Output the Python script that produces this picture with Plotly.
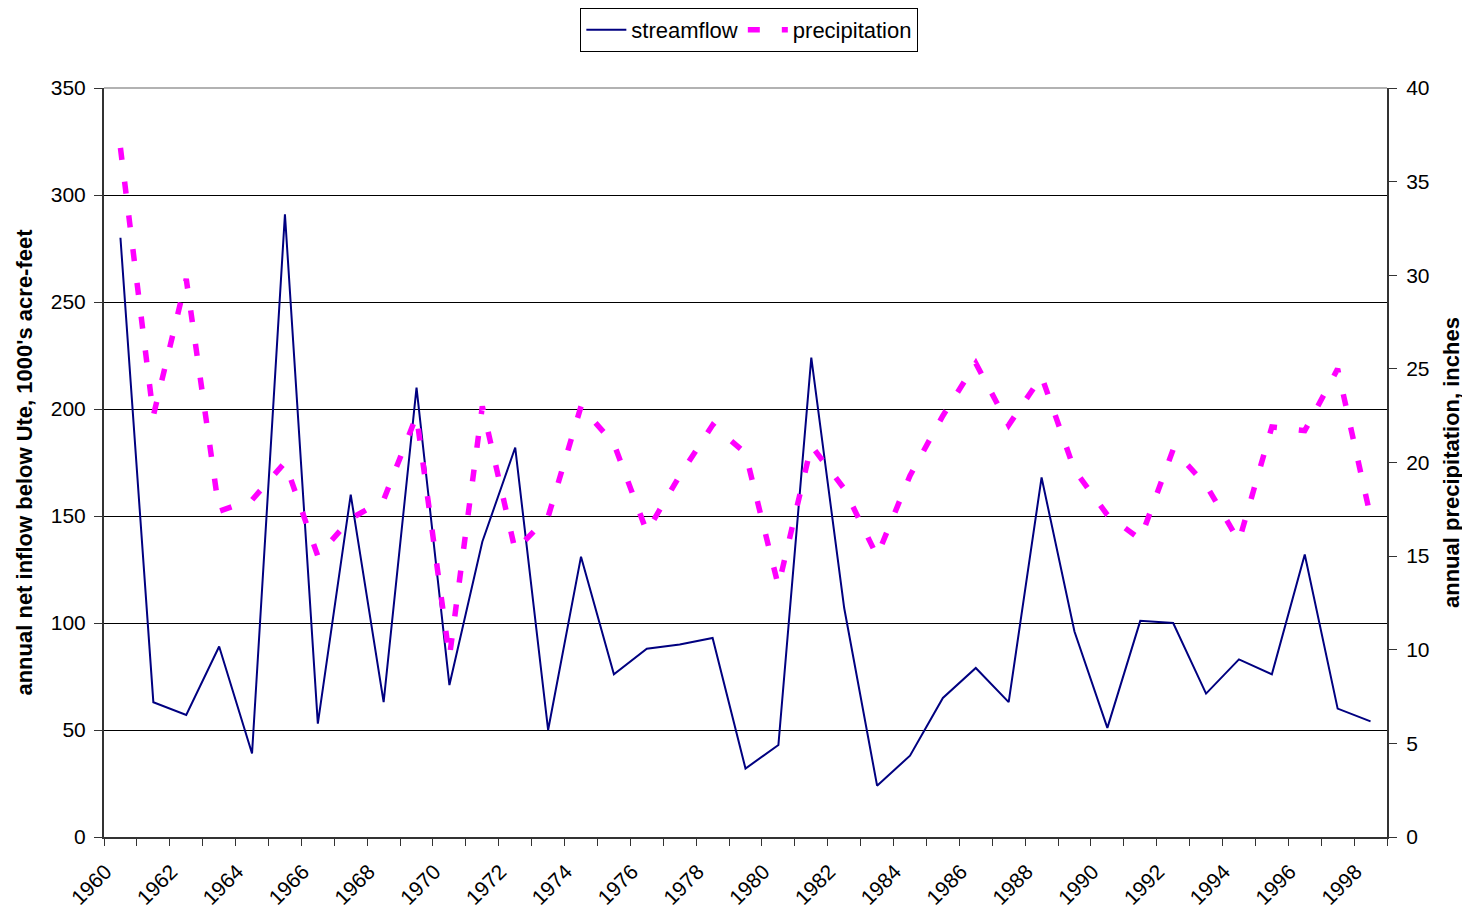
import plotly.graph_objects as go

# years on the category axis
lstYears = list(range(1960, 1999))

# annual net inflow below Ute, 1000's acre-feet
lstStreamflow = [280, 63, 57, 89, 39, 291, 53, 160, 63, 210,
                 71, 138, 182, 50, 131, 76, 88, 90, 93, 32,
                 43, 224, 107, 24, 38, 65, 79, 63, 168, 96,
                 51, 101, 100, 67, 83, 76, 132, 60, 54]

# annual precipitation, inches
lstPrecip = [36.8, 22.5, 29.8, 17.4, 18.0, 20.0, 15.0, 17.0, 18.0, 22.5,
             9.6, 23.0, 15.3, 17.1, 23.0, 21.0, 16.3, 19.3, 22.0, 20.5,
             13.4, 20.9, 18.6, 15.0, 19.3, 22.5, 25.3, 22.0, 24.6, 19.6,
             17.2, 15.9, 20.7, 18.8, 15.8, 21.9, 21.7, 25.0, 17.1]

# every other year gets a label
lstTickYears = lstYears[::2]
lstTickText = [str(y) for y in lstTickYears]

fontFamily = "Liberation Sans, Arial, sans-serif"

fig = go.Figure()
fig.add_trace(go.Scatter(x=lstYears, y=lstStreamflow, name="streamflow", mode="lines",
                         line=dict(color="#000080", width=2)))
fig.add_trace(go.Scatter(x=lstYears, y=lstPrecip, name="precipitation", mode="lines", yaxis="y2",
                         line=dict(color="#ff00ff", width=5.5, dash="12px,22px")))

# page body adds an 8px margin, so the figure is 8px smaller than the window
fig.update_layout(
    width=1462, height=906,
    margin=dict(l=96, r=83, t=80, b=77, autoexpand=False),
    paper_bgcolor="white", plot_bgcolor="white",
    font=dict(family=fontFamily, size=21, color="black"),
    showlegend=True,
    legend=dict(orientation="h", x=0.503, xanchor="center", y=1.107, yanchor="top",
                bordercolor="black", borderwidth=1, font=dict(size=22),
                itemwidth=40, tracegroupgap=0),
    xaxis=dict(range=[1959.5, 1998.5], tickvals=[y - 0.45 for y in lstTickYears], ticktext=lstTickText,
               tickangle=-45, ticks="", ticklabelstandoff=12, showgrid=False,
               showline=True, linecolor="#333333", linewidth=2, zeroline=False,
               minor=dict(tickvals=[y - 0.5 for y in lstYears] + [1998.5], ticks="outside",
                          ticklen=7, tickcolor="#333333", tickwidth=1, showgrid=False)),
    yaxis=dict(range=[0, 350], dtick=50, ticks="outside", ticklen=8, tickcolor="#333333",
               ticklabelstandoff=4,
               showline=True, linecolor="#333333", linewidth=2, zeroline=False,
               showgrid=True, gridcolor="black", gridwidth=1,
               title=dict(text="annual net inflow below Ute, 1000's acre-feet",
                          font=dict(size=22, weight="bold"), standoff=12)),
    yaxis2=dict(range=[0, 40], dtick=5, overlaying="y", side="right", ticks="outside", ticklen=8,
                tickcolor="#333333", ticklabelstandoff=5,
                showline=True, linecolor="#333333", linewidth=2,
                showgrid=False, zeroline=False,
                title=dict(text="annual precipitation, inches",
                           font=dict(size=22, weight="bold"), standoff=15)),
)

# thin grey frame line across the top of the plot area
fig.add_shape(type="line", xref="paper", yref="paper", x0=0, x1=1, y0=1, y1=1,
              line=dict(color="#999999", width=1.5))

fig.write_html("out.html")
